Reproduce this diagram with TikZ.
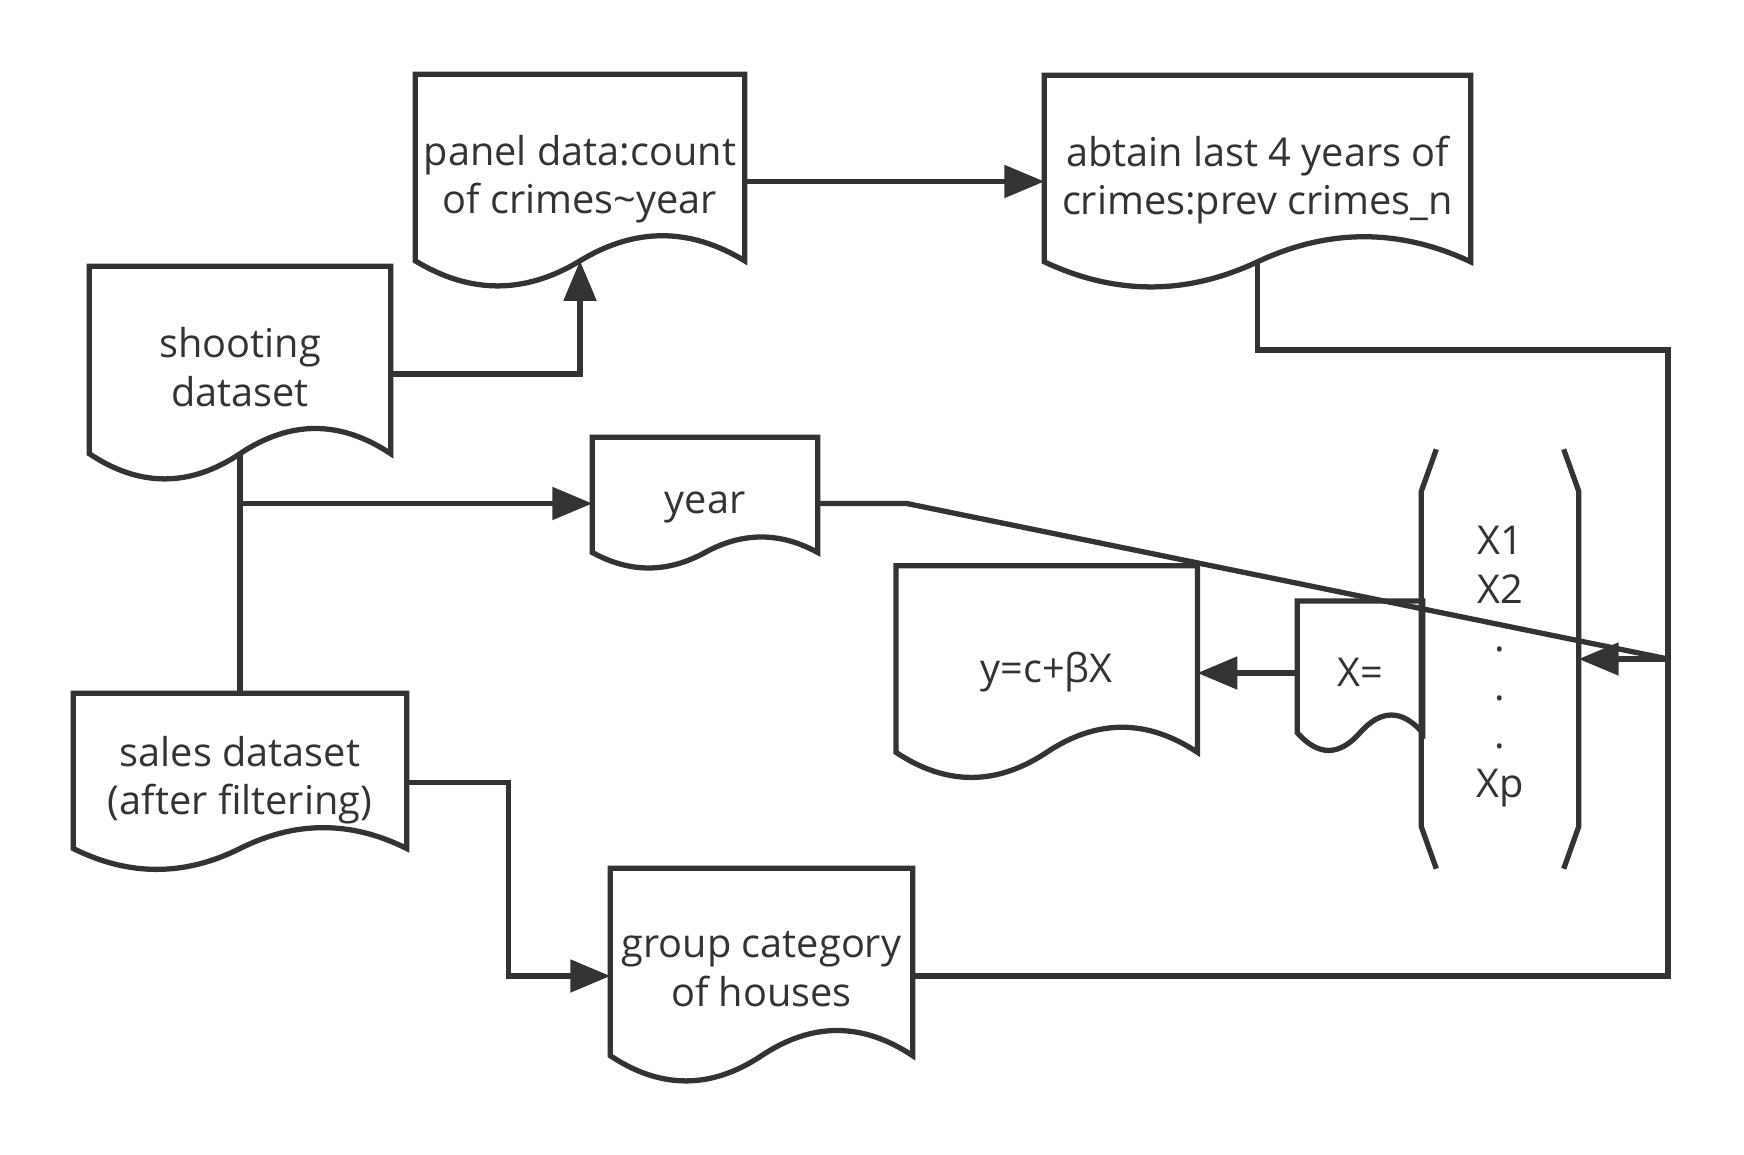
\documentclass[tikz,border=0pt]{standalone}
\usepackage{fontspec}
\setmainfont{Open Sans}
\usepackage{tikz}
\usetikzlibrary{arrows.meta,calc}
\tikzset{every node/.append style={align=center}}
\definecolor{flowgray}{HTML}{333333}
\newcommand{\docfont}{\fontsize{11.3}{13.8}\selectfont}

% outline of a document box with a wavy bottom, (name-w) = middle of the wave
\newcommand{\docshape}[1]{%
  \draw[flowline] let \p1=(#1.north west), \p2=(#1.south east),
      \n1={0.26*((\y1)-(\y2))}, \n2={((\x2)-(\x1))/6}, \n3={((\x1)+(\x2))/2} in
    (\p1) -- (\x2,\y1) -- (\x2,\y2+0.5*\n1)
    .. controls (\x2-\n2,\y2+1.1*\n1) and (\n3+\n2,\y2+1.1*\n1) .. (\n3,\y2+0.5*\n1)
    coordinate (#1-w)
    .. controls (\n3-\n2,\y2-0.1*\n1) and (\x1+\n2,\y2-0.1*\n1) .. (\x1,\y2+0.5*\n1)
    -- cycle;}

\begin{document}
\begin{tikzpicture}[
    flowline/.style={draw=flowgray, line width=1.5pt},
    flowarrow/.style={flowline, -{Triangle[length=4mm,width=3.2mm]}},
    doc/.style={draw=none, inner sep=0pt, text=flowgray, font=\docfont,
      execute at begin node=\strut, execute at end node=\strut}]

  % Page
  \fill[white] (0,0) rectangle (17.44,-11.55);
  \useasboundingbox (0,0) rectangle (17.44,-11.55);

  % Shooting dataset
  \node[doc, minimum width=3.00cm, minimum height=2.14cm] (shoot)
    at (2.40,-3.74) {shooting\\dataset};
  \docshape{shoot}

  % Panel data
  \node[doc, minimum width=3.28cm, minimum height=2.13cm] (panel)
    at (5.80,-1.815) {panel data:count\\of crimes\textasciitilde year};
  \docshape{panel}

  % Last 4 years
  \node[doc, minimum width=4.25cm, minimum height=2.13cm] (abtain)
    at (12.575,-1.825) {abtain last 4 years of\\crimes:prev crimes\_n};
  \docshape{abtain}

  % Year
  \node[doc, minimum width=2.24cm, minimum height=1.31cm] (year)
    at (7.05,-5.035) {year};
  \docshape{year}

  % Sales dataset
  \node[doc, minimum width=3.32cm, minimum height=1.77cm] (sales)
    at (2.40,-7.825) {sales dataset\\(after filtering)};
  \docshape{sales}

  % Group category
  \node[doc, minimum width=3.01cm, minimum height=2.14cm] (group)
    at (7.615,-9.76) {group category\\of houses};
  \docshape{group}

  % Model
  \node[doc, minimum width=3.00cm, minimum height=2.13cm] (form)
    at (10.467,-6.73) {y=c+βX};
  \docshape{form}

  % X=
  \node[doc, minimum width=1.24cm, minimum height=1.50cm] (xeq)
    at (13.60,-6.767) {X=};
  \docshape{xeq}

  % Vector of regressors
  \node[doc, minimum width=1.56cm, minimum height=4.18cm] (vec)
    at (15.00,-6.59) {\rule{0pt}{13.8pt}X1\\X2\\.\\.\\.\\Xp};
  \draw[flowline] ([xshift=1.5mm]vec.north west) -- ([yshift=-4.2mm]vec.north west)
    -- ([yshift=4.2mm]vec.south west) -- ([xshift=1.5mm]vec.south west);
  \draw[flowline] ([xshift=-1.5mm]vec.north east) -- ([yshift=-4.2mm]vec.north east)
    -- ([yshift=4.2mm]vec.south east) -- ([xshift=-1.5mm]vec.south east);

  % Connectors
  \coordinate (railtop) at (16.68,-3.50);
  \coordinate (railmid) at (16.68,-6.59);
  \draw[flowarrow] (shoot.east) -| (panel-w);
  \draw[flowarrow] (panel.east) -- (panel.east -| abtain.west);
  \draw[flowline] (shoot-w) -- (sales.north);
  \draw[flowarrow] (shoot-w |- year.west) -- (year.west);
  \draw[flowarrow] (sales.east) -- ++(1.02,0) |- (group.west);
  \draw[flowline] (abtain-w) |- (railtop) |- (group.east);
  \draw[flowline] (year.east) -- ++(0.89,0) -- (railmid);
  \draw[flowarrow] (railmid) -- (vec.east);
  \draw[flowarrow] (xeq.west |- form.east) -- (form.east);

\end{tikzpicture}
\end{document}
